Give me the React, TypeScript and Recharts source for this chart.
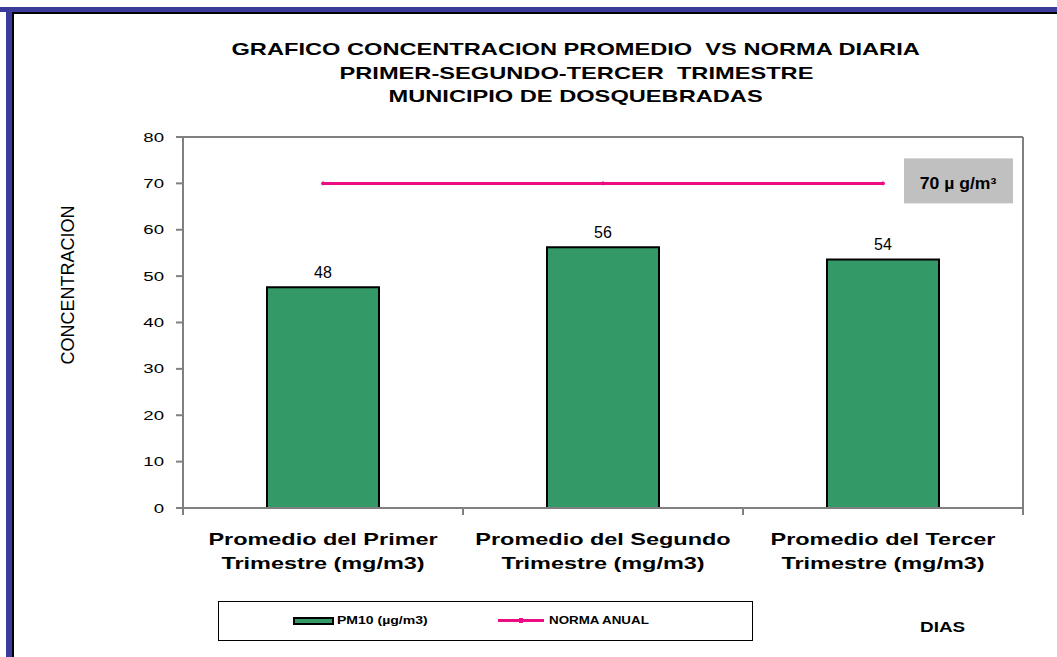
import React from "react";
import { ComposedChart, Bar, Line, XAxis, YAxis, LabelList, CartesianGrid } from "recharts";

// values
const categories = [
  "Promedio del Primer\nTrimestre (mg/m3)",
  "Promedio del Segundo\nTrimestre (mg/m3)",
  "Promedio del Tercer\nTrimestre (mg/m3)",
];
const pm10 = [47.6, 56.2, 53.6];
const norma = [70, 70, 70];
const yTicks = [0, 10, 20, 30, 40, 50, 60, 70, 80];
const titleLines = [
  "GRAFICO CONCENTRACION PROMEDIO  VS NORMA DIARIA",
  "PRIMER-SEGUNDO-TERCER  TRIMESTRE",
  "MUNICIPIO DE DOSQUEBRADAS",
];
const normaLabel = "70 µ g/m³";

const GREEN = "#339966";
const PINK = "#EC0C84";
const GRAY = "#808080";
const BLUE = "#3B3B9C";
const FONT = "'Liberation Sans', Arial, sans-serif";

const data = categories.map((c, i) => ({ cat: c, pm10: pm10[i], norma: norma[i] }));

const YTick = (props: any) => {
  const { x, y, payload } = props;
  return (
    <g transform={`translate(${x},${y})`}>
      <text transform="scale(1.38,1)" textAnchor="end" dy={4.5} fontSize={13.5} fontFamily={FONT} fill="#000">
        {payload.value}
      </text>
    </g>
  );
};

const XTick = (props: any) => {
  const { x, y, payload, index } = props;
  const half = payload.offset || 140;
  const lines = String(payload.value).split("\n");
  return (
    <g>
      <line x1={x - half} x2={x - half} y1={y} y2={y + 7} stroke={GRAY} strokeWidth={2} />
      {index === categories.length - 1 && (
        <line x1={x + half} x2={x + half} y1={y} y2={y + 7} stroke={GRAY} strokeWidth={2} />
      )}
      <g transform={`translate(${x},${y})`}>
        <text transform="scale(1.38,1)" textAnchor="middle" fontSize={17} fontWeight="bold" fontFamily={FONT} fill="#000">
          <tspan x={0} y={37}>{lines[0]}</tspan>
          <tspan x={0} y={61}>{lines[1]}</tspan>
        </text>
      </g>
    </g>
  );
};

const NormaBox = (props: any) => {
  const { x, y, index } = props;
  if (index !== norma.length - 1) return null;
  return (
    <g>
      <rect x={x + 21} y={y - 25} width={109} height={45} fill="#C0C0C0" />
      <g transform={`translate(${x + 75},${y + 6})`}>
        <text transform="scale(1.1,1)" textAnchor="middle" fontSize={16} fontWeight="bold" fontFamily={FONT} fill="#000">
          {normaLabel}
        </text>
      </g>
    </g>
  );
};

const stretch = (s: number): React.CSSProperties => ({
  display: "inline-block",
  transform: `scaleX(${s})`,
  whiteSpace: "pre",
});

export default function App() {
  return (
    <div style={{ position: "absolute", left: 0, top: 0, width: 1057, height: 657, background: "#fff", overflow: "hidden", fontFamily: FONT }}>
      <ComposedChart width={1057} height={657} data={data} margin={{ top: 137, right: 34, bottom: 89, left: 0 }} barCategoryGap="30%">
        <CartesianGrid
          stroke={GRAY}
          strokeWidth={2}
          horizontalCoordinatesGenerator={({ offset }: any) => [offset.top]}
          verticalCoordinatesGenerator={({ offset }: any) => [offset.left + offset.width]}
        />
        <XAxis
          dataKey="cat"
          height={60}
          tickSize={0}
          tickMargin={0}
          tickLine={false}
          axisLine={{ stroke: GRAY, strokeWidth: 2 }}
          tick={<XTick />}
          interval={0}
        />
        <YAxis
          width={183}
          domain={[0, 80]}
          ticks={yTicks}
          tickSize={7}
          tickMargin={12}
          tick={<YTick />}
          tickLine={{ stroke: GRAY, strokeWidth: 2 }}
          axisLine={{ stroke: GRAY, strokeWidth: 2 }}
        />
        <Bar dataKey="pm10" name="PM10 (µg/m3)" fill={GREEN} stroke="#000" strokeWidth={2} isAnimationActive={false}>
          <LabelList
            dataKey="pm10"
            position="top"
            offset={9}
            formatter={(v: any) => Math.round(Number(v))}
            fontSize={16}
            fontFamily={FONT}
            fill="#000"
          />
        </Bar>
        <Line
          dataKey="norma"
          name="NORMA ANUAL"
          stroke={PINK}
          strokeWidth={3}
          dot={{ r: 1.5, fill: PINK, stroke: PINK, strokeWidth: 1 }}
          isAnimationActive={false}
        >
          <LabelList dataKey="norma" content={<NormaBox />} />
        </Line>
      </ComposedChart>

      {/* title */}
      <div style={{ position: "absolute", left: 276, top: 38, width: 600, textAlign: "center", fontWeight: "bold", fontSize: 17, lineHeight: "23.5px", color: "#000" }}>
        {titleLines.map((t) => (
          <div key={t}>
            <span style={stretch(1.39)}>{t}</span>
          </div>
        ))}
      </div>

      {/* y axis title */}
      <div style={{ position: "absolute", left: 68, top: 285, width: 0, height: 0 }}>
        <div style={{ position: "absolute", transform: "translate(-50%,-50%) rotate(-90deg)", fontSize: 18, whiteSpace: "nowrap", color: "#000" }}>
          CONCENTRACION
        </div>
      </div>

      {/* legend */}
      <div style={{ position: "absolute", left: 218, top: 601, width: 533, height: 38, border: "1.5px solid #000", fontWeight: "bold", fontSize: 11.5, color: "#000" }}>
        <div style={{ position: "absolute", left: 74, top: 15, width: 37, height: 4, background: GREEN, border: "2px solid #000" }} />
        <div style={{ position: "absolute", left: 118, top: 11, lineHeight: "14px" }}>
          <span style={{ ...stretch(1.22), transformOrigin: "left center" }}>PM10 (µg/m3)</span>
        </div>
        <div style={{ position: "absolute", left: 279, top: 17, width: 46, height: 3, background: PINK }} />
        <div style={{ position: "absolute", left: 300, top: 16, width: 4, height: 5, background: PINK }} />
        <div style={{ position: "absolute", left: 330, top: 11, lineHeight: "14px" }}>
          <span style={{ ...stretch(1.16), transformOrigin: "left center" }}>NORMA ANUAL</span>
        </div>
      </div>

      <div style={{ position: "absolute", left: 920, top: 618, fontWeight: "bold", fontSize: 14, lineHeight: "18px", color: "#000" }}>
        <span style={{ ...stretch(1.35), transformOrigin: "left center" }}>DIAS</span>
      </div>

      {/* frame */}
      <div style={{ position: "absolute", left: 0, top: 7, width: 1057, height: 5, background: BLUE }} />
      <div style={{ position: "absolute", left: 6, top: 12, width: 1051, height: 1.5, background: "#000" }} />
      <div style={{ position: "absolute", left: 6, top: 7, width: 6, height: 650, background: BLUE }} />
      <div style={{ position: "absolute", left: 12, top: 12, width: 1.5, height: 645, background: "#000" }} />
    </div>
  );
}
